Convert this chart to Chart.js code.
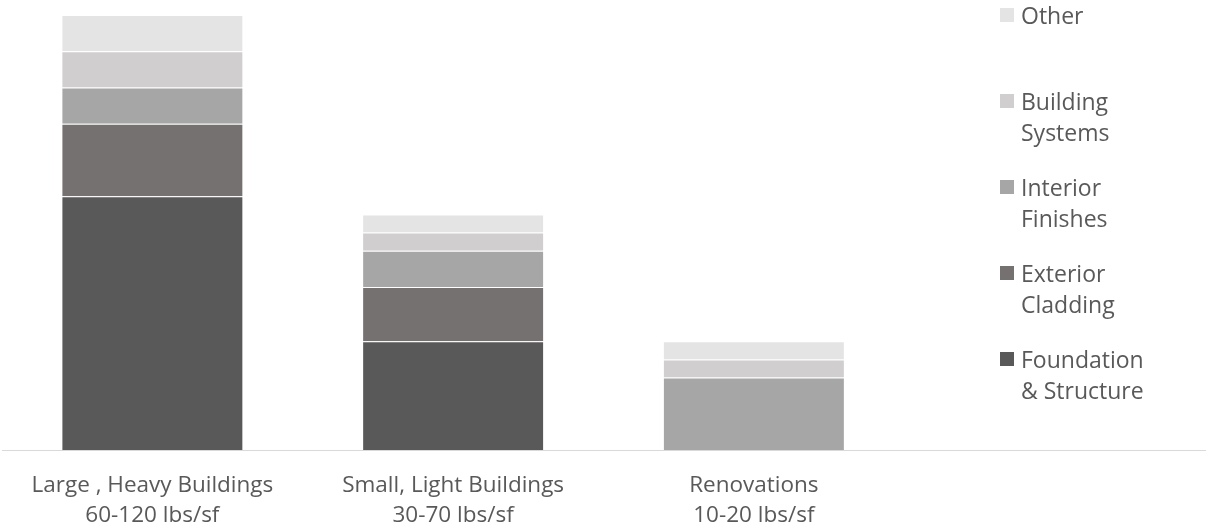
<!DOCTYPE html>
<html>
<head>
<meta charset="utf-8">
<script src="https://cdn.jsdelivr.net/npm/chart.js@4"></script>
<style>
    body { margin: 0; background: #fff; }
    .wrap { position: relative; width: 1207px; height: 531px; }
    #legend { position: absolute; left: 1000px; top: 0; font-family: "Open Sans", sans-serif; font-size: 23px; color: #595959; }
    .item { position: relative; height: 86px; }
    .box { position: absolute; left: 0; top: 8px; width: 14px; height: 14px; }
    .txt { position: absolute; left: 21px; top: 0; line-height: 31px; white-space: nowrap; }
</style>
</head>
<body>
<div class="wrap">
    <canvas id="wasteChart" width="1207" height="531"></canvas>
    <div id="legend"></div>
</div>
<script>
// Chart data
const categories = [
    ['Large , Heavy Buildings', '60-120 lbs/sf'],
    ['Small, Light Buildings', '30-70 lbs/sf'],
    ['Renovations', '10-20 lbs/sf'],
    ''
];
const foundation = [70, 30, null];
const exterior = [20, 15, null];
const interior = [10, 10, 20];
const systems = [10, 5, 5];
const other = [10, 5, 5];

const seriesNames = ['Foundation\n& Structure', 'Exterior\nCladding', 'Interior\nFinishes', 'Building\nSystems', 'Other'];
const seriesColors = ['#595959', '#767171', '#a6a6a6', '#d0cece', '#e4e4e4'];
const seriesData = [foundation, exterior, interior, systems, other];

const ctx = document.getElementById('wasteChart').getContext('2d');
const chart = new Chart(ctx, {
    type: 'bar',
    data: {
        labels: categories,
        datasets: seriesData.map((d, i) => ({
            label: seriesNames[i],
            data: d,
            backgroundColor: seriesColors[i],
            borderColor: 'rgba(255,255,255,0.2)',
            borderWidth: 1,
            categoryPercentage: 1,
            barPercentage: 0.605
        }))
    },
    options: {
        responsive: false,
        animation: false,
        layout: { padding: { left: 2, right: 2, top: 15, bottom: 0 } },
        plugins: {
            legend: { display: false },
            tooltip: { enabled: false }
        },
        scales: {
            x: {
                stacked: true,
                grid: { display: false, drawTicks: false },
                border: { display: true, color: '#d9d9d9', width: 1 },
                ticks: {
                    color: '#595959',
                    padding: 21,
                    font: { family: 'Open Sans', size: 22.5, lineHeight: 1.333 },
                    maxRotation: 0,
                    autoSkip: false
                },
                afterFit: scale => { scale.height = 81; }
            },
            y: {
                stacked: true,
                display: false,
                min: 0,
                max: 120
            }
        }
    }
});

// Build the legend (top to bottom = last dataset first)
const legendEl = document.getElementById('legend');
[...chart.data.datasets].reverse().forEach(ds => {
    const item = document.createElement('div');
    item.className = 'item';
    item.innerHTML = `
        <div class="box" style="background:${ds.backgroundColor}"></div>
        <div class="txt">${ds.label.split('\n').join('<br>')}</div>
    `;
    legendEl.appendChild(item);
});
</script>
</body>
</html>
